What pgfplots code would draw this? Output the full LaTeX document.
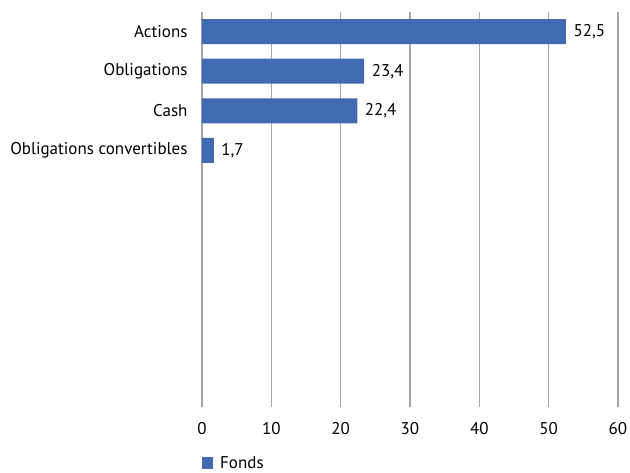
\documentclass[border=0pt]{standalone}
\usepackage{pgfplots}
\pgfplotsset{compat=1.18}
\usepackage{fontspec}
\setmainfont{PT Sans}
\definecolor{barblue}{RGB}{65,106,178}
\definecolor{gridgray}{RGB}{165,165,165}
\begin{document}
\begin{tikzpicture}
\useasboundingbox (-202pt,-65pt) rectangle (428pt,407pt);
\begin{axis}[
  at={(0pt,0pt)}, anchor=south west,
  scale only axis,
  width=416pt, height=395pt,
  xbar, bar width=25pt,
  xmin=0, xmax=60,
  ymin=-0.5, ymax=9.5,
  y dir=reverse,
  axis line style={draw=none},
  xtick={0,10,...,60},
  ytick={0,1,2,3},
  yticklabels={Actions,Obligations,Cash,Obligations convertibles},
  major tick length=0pt,
  xmajorgrids,
  major grid style={gridgray, line width=1.2pt},
  tick label style={font=\fontsize{17}{19}\selectfont},
  xticklabel style={yshift=-12pt, /pgf/number format/assume math mode=true},
  yticklabel style={xshift=-11pt},
  nodes near coords={\pgfmathprintnumber[assume math mode=true, use comma, fixed, precision=1, fixed zerofill]{\pgfplotspointmeta}},
  nodes near coords style={font=\fontsize{17}{19}\selectfont, xshift=4pt},
  legend style={at={(rel axis cs:0,0)}, anchor=north west, yshift=-47pt, xshift=0pt, draw=none, font=\fontsize{17}{19}\selectfont, inner sep=0pt, row sep=0pt},
  legend image code/.code={\fill[barblue] (0pt,-6pt) rectangle (11pt,6pt); \path (16pt,0pt);},
]
\addplot[fill=barblue, draw=none] coordinates {(52.5,0) (23.4,1) (22.4,2) (1.7,3)};
\addlegendentry{Fonds}
\end{axis}
\end{tikzpicture}
\end{document}
